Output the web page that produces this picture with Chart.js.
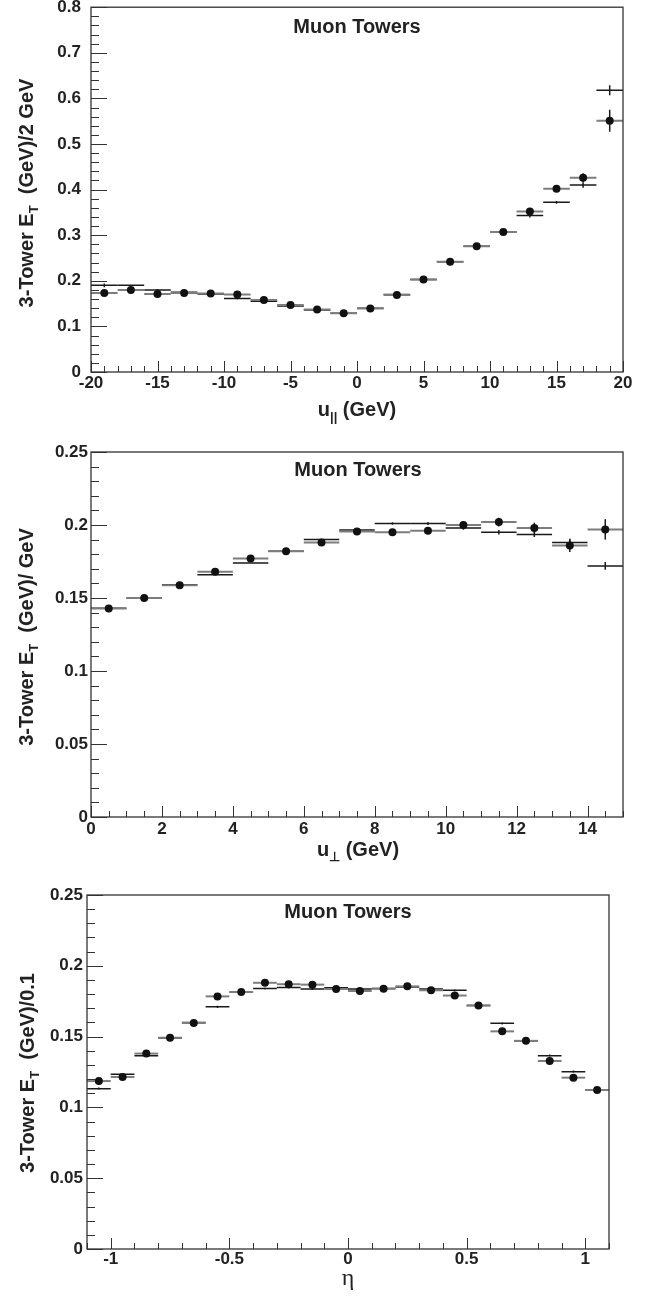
<!DOCTYPE html>
<html lang="en">
<head>
<meta charset="UTF-8">
<title>Muon Towers</title>
<script src="https://cdn.jsdelivr.net/npm/chart.js@4.4.0/dist/chart.umd.min.js"></script>
<style>
    body { margin: 0; background: #fff; }
    #page {
        position: relative;
        width: 652px;
        height: 1298px;
        overflow: hidden;
        font-family: 'Liberation Sans', Arial, sans-serif;
        color: #222;
    }
    canvas { position: absolute; left: 0; }
    .lbl {
        position: absolute;
        white-space: nowrap;
        font-weight: bold;
        font-size: 20px;
        line-height: 1;
    }
    .ytitle { transform: translate(-50%, -50%) rotate(-90deg); }
    .ctr { transform: translateX(-50%); }
    .lbl sub { font-size: 13px; vertical-align: -5px; line-height: 0; }
    .eta { font-family: 'Liberation Serif', serif; font-weight: normal; font-size: 24px; }
</style>
</head>
<body>
<div id="page">
    <canvas id="c1" width="652" height="443" style="top:-13px"></canvas>
    <canvas id="c2" width="652" height="440" style="top:425px"></canvas>
    <canvas id="c3" width="652" height="433" style="top:865px"></canvas>

    <div class="lbl ctr" style="left:357px; top:15.7px">Muon Towers</div>
    <div class="lbl ctr" style="left:358px; top:459px">Muon Towers</div>
    <div class="lbl ctr" style="left:348px; top:900.7px">Muon Towers</div>

    <div class="lbl ytitle" style="left:25.7px; top:192.5px">3-Tower E<sub>T</sub>&nbsp; (GeV)/2 GeV</div>
    <div class="lbl ytitle" style="left:25.7px; top:637px">3-Tower E<sub>T</sub>&nbsp; (GeV)/ GeV</div>
    <div class="lbl ytitle" style="left:27.4px; top:1073px">3-Tower E<sub>T</sub>&nbsp; (GeV)/0.1</div>

    <div class="lbl ctr" style="left:357px; top:399.4px">u<sub>||</sub> (GeV)</div>
    <div class="lbl ctr" style="left:358px; top:839.4px">u<sub>&perp;</sub> (GeV)</div>
    <div class="lbl ctr eta" style="left:348px; top:1265px">&eta;</div>
</div>

<script>
    // u parallel: bin centres (2 GeV bins), data points and simulation
    const uParBins = [-19, -17, -15, -13, -11, -9, -7, -5, -3, -1, 1, 3, 5, 7, 9, 11, 13, 15, 17, 19];
    const uParData = [0.173, 0.180, 0.171, 0.173, 0.172, 0.170, 0.158, 0.147, 0.137, 0.129, 0.139, 0.169, 0.203, 0.242, 0.276, 0.307, 0.352, 0.402, 0.426, 0.551];
    const uParDataErr = [0.003, 0.003, 0.003, 0.003, 0.003, 0.003, 0.002, 0.002, 0.002, 0.002, 0.002, 0.002, 0.002, 0.003, 0.003, 0.003, 0.005, 0.006, 0.010, 0.024];
    const uParMC = [0.190, 0.190, 0.180, 0.175, 0.171, 0.161, 0.155, 0.145, 0.136, 0.129, 0.140, 0.170, 0.203, 0.242, 0.276, 0.307, 0.343, 0.372, 0.410, 0.618];
    const uParMCErr = [0.004, 0.002, 0.002, 0.002, 0.002, 0.002, 0.002, 0.001, 0.001, 0.001, 0.001, 0.001, 0.001, 0.001, 0.002, 0.002, 0.004, 0.003, 0.006, 0.011];

    // u perpendicular: 1 GeV bins
    const uPerpBins = [0.5, 1.5, 2.5, 3.5, 4.5, 5.5, 6.5, 7.5, 8.5, 9.5, 10.5, 11.5, 12.5, 13.5, 14.5];
    const uPerpData = [0.1428, 0.1500, 0.1588, 0.1680, 0.1770, 0.1820, 0.1880, 0.1956, 0.1950, 0.1960, 0.2000, 0.2020, 0.1980, 0.1860, 0.1970];
    const uPerpDataErr = [0.0006, 0.0006, 0.0007, 0.0008, 0.0009, 0.0010, 0.0012, 0.0014, 0.0017, 0.0020, 0.0025, 0.0030, 0.0036, 0.0045, 0.0070];
    const uPerpMC = [0.1430, 0.1500, 0.1590, 0.1660, 0.1740, 0.1820, 0.1900, 0.1965, 0.2010, 0.2010, 0.1980, 0.1950, 0.1935, 0.1880, 0.1720];
    const uPerpMCErr = [0.0004, 0.0004, 0.0004, 0.0005, 0.0005, 0.0006, 0.0007, 0.0008, 0.0009, 0.0010, 0.0012, 0.0015, 0.0018, 0.0022, 0.0027];

    // eta: 0.1 bins
    const etaBins = [-1.05, -0.95, -0.85, -0.75, -0.65, -0.55, -0.45, -0.35, -0.25, -0.15, -0.05, 0.05, 0.15, 0.25, 0.35, 0.45, 0.55, 0.65, 0.75, 0.85, 0.95, 1.05];
    const etaData = [0.1186, 0.1215, 0.1380, 0.1492, 0.1596, 0.1784, 0.1815, 0.1880, 0.1870, 0.1867, 0.1836, 0.1822, 0.1838, 0.1855, 0.1827, 0.1790, 0.1720, 0.1537, 0.1470, 0.1328, 0.1210, 0.1123];
    const etaDataErr = [0.0015, 0.0014, 0.0013, 0.0012, 0.0012, 0.0012, 0.0011, 0.0011, 0.0011, 0.0011, 0.0011, 0.0011, 0.0011, 0.0011, 0.0011, 0.0012, 0.0012, 0.0012, 0.0013, 0.0013, 0.0014, 0.0015];
    const etaMC = [0.1132, 0.1234, 0.1365, 0.1490, 0.1600, 0.1710, 0.1815, 0.1840, 0.1846, 0.1836, 0.1845, 0.1836, 0.1840, 0.1850, 0.1836, 0.1827, 0.1720, 0.1594, 0.1470, 0.1365, 0.1252, 0.1125];
    const etaMCErr = [0.0008, 0.0007, 0.0007, 0.0007, 0.0007, 0.0008, 0.0007, 0.0007, 0.0007, 0.0007, 0.0007, 0.0007, 0.0007, 0.0007, 0.0007, 0.0007, 0.0007, 0.0008, 0.0007, 0.0008, 0.0008, 0.0008];

    // horizontal bin bars + vertical error bars, drawn under the data dots
    const histPlugin = {
        id: 'hist',
        beforeDatasetsDraw(chart) {
            const o = chart.options.plugins.hist;
            const { ctx, chartArea: a, scales: { x, y } } = chart;
            ctx.save();
            ctx.beginPath();
            ctx.rect(a.left, a.top, a.right - a.left, a.bottom - a.top);
            ctx.clip();

            // simulation: black bin lines
            ctx.strokeStyle = '#1a1a1a';
            ctx.lineWidth = 1.5;
            o.bins.forEach((c, i) => {
                const x0 = x.getPixelForValue(c - o.half);
                const x1 = x.getPixelForValue(c + o.half);
                const xc = x.getPixelForValue(c);
                const yv = y.getPixelForValue(o.mc[i]);
                ctx.beginPath();
                ctx.moveTo(x0, yv); ctx.lineTo(x1, yv);
                ctx.moveTo(xc, y.getPixelForValue(o.mc[i] - o.mcErr[i]));
                ctx.lineTo(xc, y.getPixelForValue(o.mc[i] + o.mcErr[i]));
                ctx.stroke();
            });

            // data: grey bin bars and black vertical errors
            o.bins.forEach((c, i) => {
                const x0 = x.getPixelForValue(c - o.half);
                const x1 = x.getPixelForValue(c + o.half);
                const xc = x.getPixelForValue(c);
                const yv = y.getPixelForValue(o.data[i]);
                ctx.strokeStyle = '#7d7d7d';
                ctx.lineWidth = 2;
                ctx.beginPath();
                ctx.moveTo(x0, yv); ctx.lineTo(x1, yv);
                ctx.stroke();
                ctx.strokeStyle = '#1a1a1a';
                ctx.lineWidth = 1.5;
                ctx.beginPath();
                ctx.moveTo(xc, y.getPixelForValue(o.data[i] - o.dataErr[i]));
                ctx.lineTo(xc, y.getPixelForValue(o.data[i] + o.dataErr[i]));
                ctx.stroke();
            });
            ctx.restore();
        }
    };

    // box frame with inward ticks on left and bottom
    const framePlugin = {
        id: 'frame',
        afterDraw(chart) {
            const o = chart.options.plugins.frame;
            const { ctx, chartArea: a, scales: { x, y } } = chart;
            ctx.save();
            ctx.strokeStyle = '#333';
            ctx.lineWidth = 1;
            ctx.beginPath();

            const marks = (scale, step) => {
                const out = [];
                const k0 = Math.ceil(scale.min / step - 1e-6);
                const k1 = Math.floor(scale.max / step + 1e-6);
                for (let k = k0; k <= k1; k++) out.push(k * step);
                return out;
            };
            const isMajor = (scale, v) => scale.ticks.some(t => Math.abs(t.value - v) < 1e-6);

            marks(x, o.xMinor).forEach(v => {
                const px = Math.round(x.getPixelForValue(v)) + 0.5;
                const len = isMajor(x, v) ? 11 : 6;
                ctx.moveTo(px, a.bottom);
                ctx.lineTo(px, a.bottom - len);
            });
            marks(y, o.yMinor).forEach(v => {
                const py = Math.round(y.getPixelForValue(v)) + 0.5;
                const len = isMajor(y, v) ? 16 : 8;
                ctx.moveTo(a.left, py);
                ctx.lineTo(a.left + len, py);
            });
            ctx.stroke();

            ctx.lineWidth = 1.3;
            ctx.strokeRect(a.left, a.top, a.right - a.left, a.bottom - a.top);
            ctx.restore();
        }
    };

    const tickFont = { family: "'Liberation Sans', Arial, sans-serif", weight: 'bold', size: 17 };
    const fmt = v => String(+Number(v).toFixed(3));

    function makePanel(id, p) {
        return new Chart(document.getElementById(id), {
            type: 'scatter',
            data: {
                datasets: [{
                    data: p.bins.map((b, i) => ({ x: b, y: p.data[i] })),
                    pointRadius: 4,
                    pointBackgroundColor: '#111',
                    pointBorderWidth: 0
                }]
            },
            options: {
                responsive: false,
                animation: false,
                layout: { padding: { top: p.padTop, right: p.padRight, left: 0, bottom: 0 } },
                plugins: {
                    legend: { display: false },
                    tooltip: { enabled: false },
                    hist: { bins: p.bins, half: p.half, data: p.data, dataErr: p.dataErr, mc: p.mc, mcErr: p.mcErr },
                    frame: { xMinor: p.xMinor, yMinor: p.yMinor }
                },
                scales: {
                    x: {
                        type: 'linear',
                        min: p.xMin, max: p.xMax,
                        grid: { display: false, drawTicks: false, tickLength: 0 },
                        border: { display: false },
                        ticks: {
                            stepSize: p.xStep, includeBounds: false, autoSkip: false, maxRotation: 0,
                            padding: p.xPad, font: tickFont, color: '#222', callback: fmt
                        },
                        afterFit(s) { s.height = p.xHeight; }
                    },
                    y: {
                        type: 'linear',
                        min: 0, max: p.yMax,
                        grid: { display: false, drawTicks: false, tickLength: 0 },
                        border: { display: false },
                        ticks: {
                            stepSize: p.yStep, includeBounds: false,
                            padding: p.yPad, font: tickFont, color: '#222', callback: fmt
                        },
                        afterFit(s) { s.width = p.yWidth; }
                    }
                }
            },
            plugins: [histPlugin, framePlugin]
        });
    }

    makePanel('c1', {
        bins: uParBins, half: 1, data: uParData, dataErr: uParDataErr, mc: uParMC, mcErr: uParMCErr,
        xMin: -20, xMax: 20, xStep: 5, xMinor: 1, yMax: 0.8, yStep: 0.1, yMinor: 0.02,
        padTop: 20, padRight: 29, xHeight: 58, yWidth: 91, xPad: 1, yPad: 10
    });
    makePanel('c2', {
        bins: uPerpBins, half: 0.5, data: uPerpData, dataErr: uPerpDataErr, mc: uPerpMC, mcErr: uPerpMCErr,
        xMin: 0, xMax: 15, xStep: 2, xMinor: 0.5, yMax: 0.25, yStep: 0.05, yMinor: 0.01,
        padTop: 27, padRight: 29, xHeight: 48, yWidth: 91, xPad: 2, yPad: 3
    });
    makePanel('c3', {
        bins: etaBins, half: 0.05, data: etaData, dataErr: etaDataErr, mc: etaMC, mcErr: etaMCErr,
        xMin: -1.1, xMax: 1.1, xStep: 0.5, xMinor: 0.1, yMax: 0.25, yStep: 0.05, yMinor: 0.01,
        padTop: 30, padRight: 43, xHeight: 49, yWidth: 87, xPad: 0, yPad: 4
    });
</script>
</body>
</html>
